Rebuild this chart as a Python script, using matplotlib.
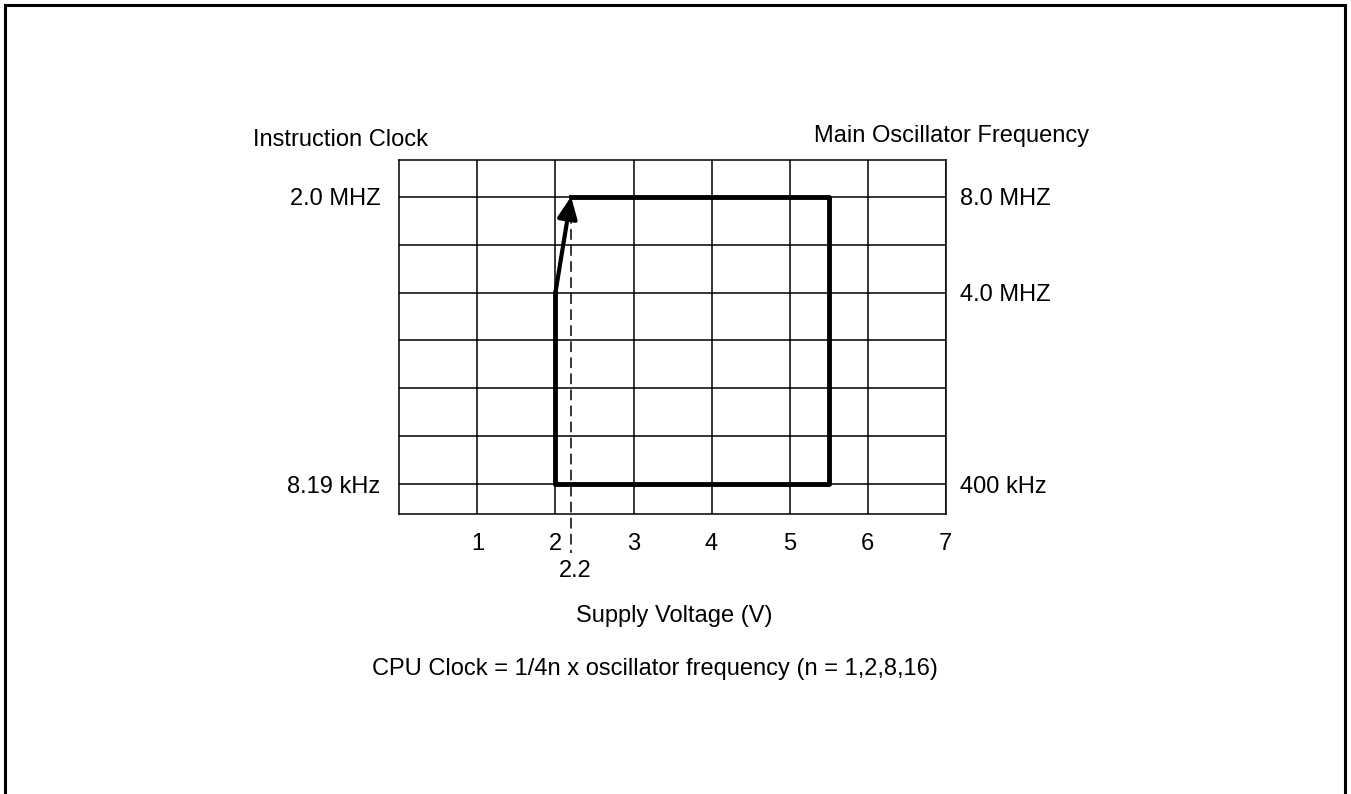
import matplotlib.pyplot as plt
from matplotlib.lines import Line2D

plt.rcParams['font.family'] = ['Liberation Sans', 'DejaVu Sans']

# voltage axis
volt_ticks = [1, 2, 3, 4, 5, 6, 7]
volt_labels = ["1", "2", "3", "4", "5", "6", "7"]

# frequency rows (grid rows 0..6)
rows = [0, 1, 2, 3, 4, 5, 6]
left_rows = [0, 6]
left_labels = ["8.19 kHz", "2.0 MHZ"]
right_rows = [0, 4, 6]
right_labels = ["400 kHz", "4.0 MHZ", "8.0 MHZ"]

# operating area corners
v_min = 2.0
v_knee = 2.2
v_max = 5.5
row_low = 0
row_mid = 4
row_top = 6

fs = 17

fig = plt.figure(figsize=(13.51, 7.94), dpi=100)
ax = fig.add_axes([0.2956, 0.3523, 0.4044, 0.4462])
ax.set_xlim(0, 7)
ax.set_ylim(-0.626, 6.766)

ax.set_xticks(volt_ticks)
ax.set_xticklabels(volt_labels, fontsize=fs)
ax.set_yticks(rows)
ax.set_yticklabels([left_labels[left_rows.index(r)] if r in left_rows else "" for r in rows],
                   fontsize=fs)
ax.tick_params(axis='x', length=0, pad=13.5)
ax.tick_params(axis='y', length=0, pad=13.5)
ax.grid(True, color='black', lw=1.1)
for sp in ax.spines.values():
    sp.set_linewidth(1.1)

ax2 = ax.twinx()
ax2.set_ylim(ax.get_ylim())
ax2.set_yticks(right_rows)
ax2.set_yticklabels(right_labels, fontsize=fs)
ax2.tick_params(axis='y', length=0, pad=10.5)
for sp in ax2.spines.values():
    sp.set_visible(False)

# operating region outline
ax.plot([v_knee, v_max, v_max, v_min, v_min],
        [row_top, row_top, row_low, row_low, row_mid],
        color='black', lw=3.5, solid_joinstyle='round', zorder=5)
ax.annotate("", xy=(v_knee, row_top), xytext=(v_min, row_mid),
            arrowprops=dict(arrowstyle='-|>,head_length=0.65,head_width=0.3',
                            mutation_scale=20, lw=3.0, color='black',
                            shrinkA=0, shrinkB=0),
            zorder=6)

# 2.2 V marker
ax.plot([v_knee, v_knee], [row_top, -1.43], color='black', lw=1.1,
        linestyle=(0, (7, 3.5)), clip_on=False, zorder=4)
ax.annotate("2.2", xy=(v_knee, 0), xycoords=('data', 'axes fraction'),
            xytext=(4, -46), textcoords='offset pixels',
            ha='center', va='top', fontsize=fs)

fig.text(252.7 / 1351, 1 - 145.7 / 794, "Instruction Clock", fontsize=fs,
         ha='left', va='baseline')
fig.text(1089.3 / 1351, 1 - 141.7 / 794, "Main Oscillator Frequency", fontsize=fs,
         ha='right', va='baseline')
fig.text(674 / 1351, 1 - 621.7 / 794, "Supply Voltage (V)", fontsize=fs,
         ha='center', va='baseline')
fig.text(938 / 1351, 1 - 675 / 794,
         "CPU Clock = 1/4n x oscillator frequency (n = 1,2,8,16)", fontsize=fs,
         ha='right', va='baseline')

# page frame (open at the bottom)
fl, fr, ft = 4.5 / 1351, 1345.3 / 1351, 1 - 5.3 / 794
fig.add_artist(Line2D([fl, fl, fr, fr], [0, ft, ft, 0], transform=fig.transFigure,
                      color='black', lw=2.2, solid_joinstyle='miter'))

fig.savefig("out.png", dpi=100)
